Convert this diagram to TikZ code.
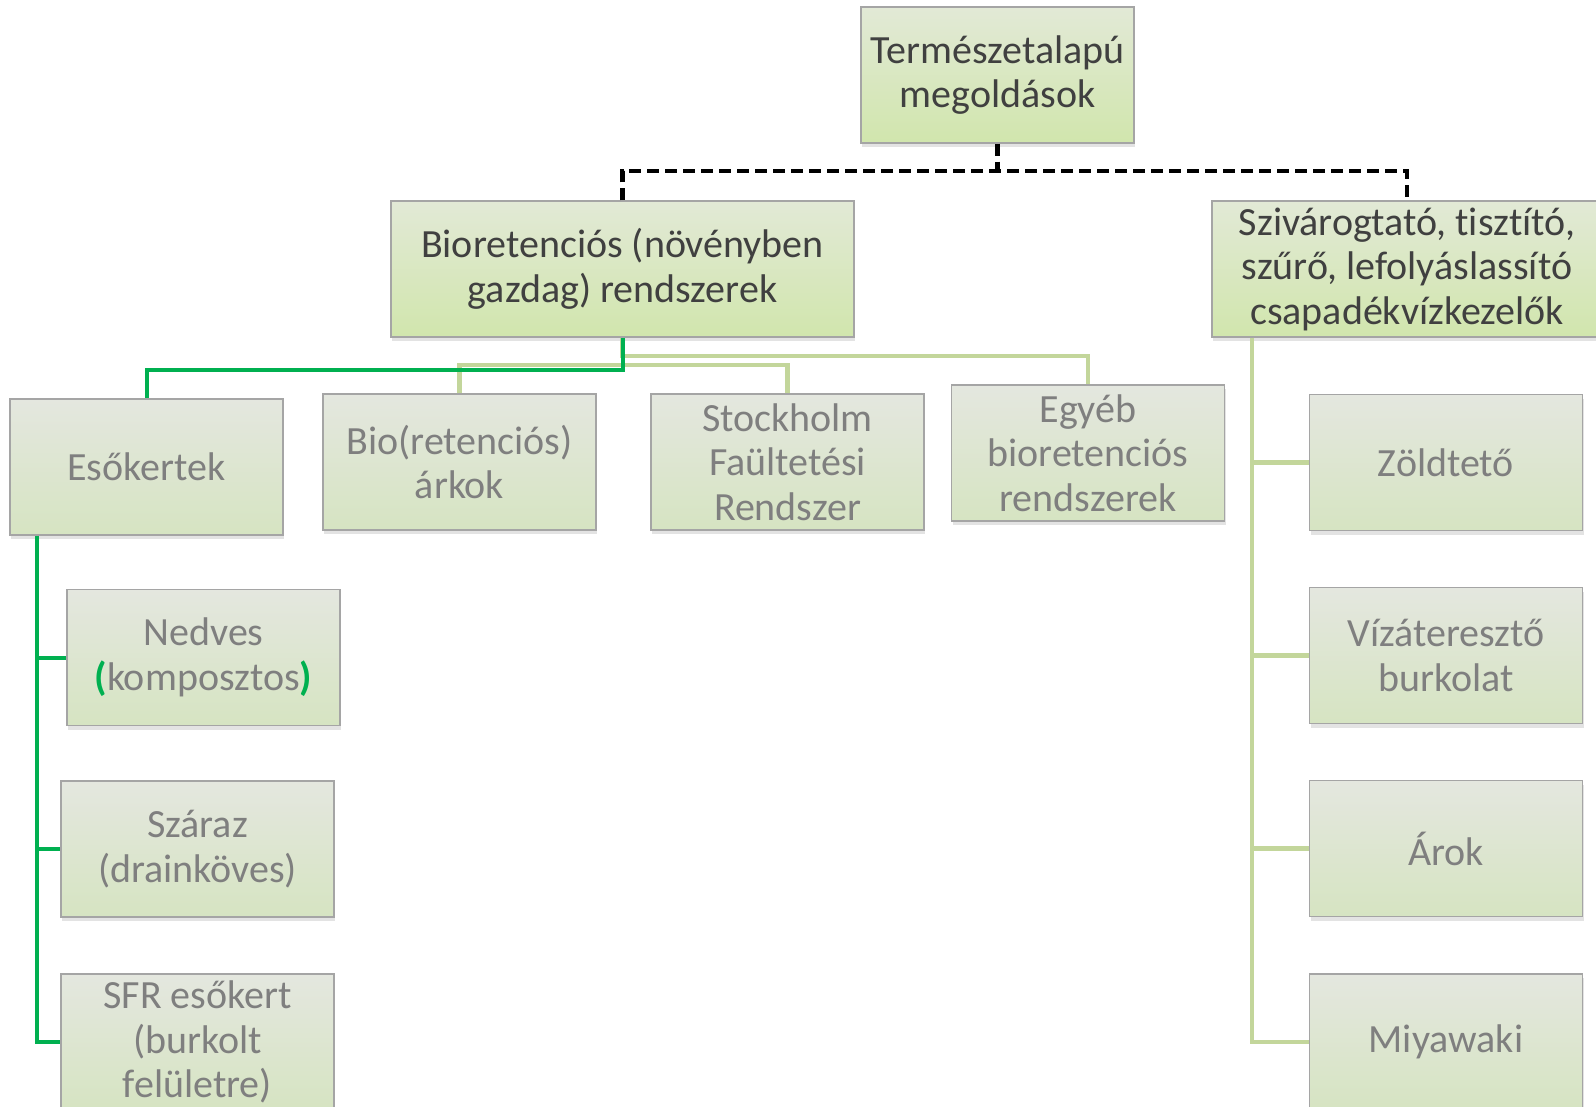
\documentclass[tikz,border=0pt]{standalone}
\usepackage{fontspec}
\setmainfont[Ligatures=NoCommon]{Carlito}
\usetikzlibrary{shadows}
\definecolor{tx1}{HTML}{404040}
\definecolor{tx2}{HTML}{7F7F7F}
\definecolor{gtop}{HTML}{E2E9D6}
\definecolor{gbot}{HTML}{D1E6AD}
\definecolor{ftop}{HTML}{E4E7DF}
\definecolor{fbot}{HTML}{D6E4C2}
\definecolor{bord}{HTML}{A5A5A5}
\definecolor{dgreen}{HTML}{00B050}
\definecolor{lgreen}{HTML}{C3D69B}
\begin{document}
\begin{tikzpicture}[x=1pt,y=-1pt,
 boxbase/.style={rectangle, draw=bord, line width=1.2pt, minimum width=273pt, minimum height=136pt, align=center, font=\fontsize{40}{44.5}\selectfont, inner sep=0pt, drop shadow={shadow xshift=1pt, shadow yshift=-4pt, opacity=0.22}},
 mainbox/.style={boxbase, top color=gtop, bottom color=gbot, text=tx1},
 subbox/.style={boxbase, top color=ftop, bottom color=fbot, text=tx2},
 darkline/.style={draw=dgreen, line width=4pt},
 lightline/.style={draw=lgreen, line width=4.5pt},
 dashline/.style={draw=black, line width=4.5pt, dash pattern=on 12pt off 6pt},
]
\useasboundingbox[fill=white] (0,0) rectangle (1596,1107);

% connector junctions
\coordinate (dj) at (997.5,171);
\coordinate (lh) at (622.5,365);
\coordinate (lh2) at (622.5,356);
\coordinate (dh) at (622.5,370);
\coordinate (rv) at (1252,337);
\coordinate (lv) at (37,535);

% boxes
\node[mainbox] (top) at (997.5,75) {Természetalapú\\megoldások};
\node[mainbox, minimum width=463pt] (bio) at (622.5,269) {Bioretenciós (növényben\\gazdag) rendszerek};
\node[mainbox, minimum width=390pt] (sziv) at (1407,269) {Szivárogtató, tisztító,\\szűrő, lefolyáslassító\\csapadékvízkezelők};

\node[subbox] (eso) at (146.5,467) {Esőkertek};
\node[subbox] (bioark) at (459.5,462) {Bio(retenciós)\\árkok};
\node[subbox] (stock) at (787.5,462) {Stockholm\\Faültetési\\Rendszer};
\node[subbox] (egyeb) at (1088,453) {Egyéb\\bioretenciós\\rendszerek};

\node[subbox] (nedves) at (203.5,657.5) {Nedves\\{\color{dgreen}\bfseries(}komposztos{\color{dgreen}\bfseries)}};
\node[subbox] (szaraz) at (197.5,849) {Száraz\\(drainköves)};
\node[subbox] (sfr) at (197.5,1042) {SFR esőkert\\(burkolt\\felületre)};

\node[subbox] (zold) at (1446,462.5) {Zöldtető};
\node[subbox] (viz) at (1446,655.5) {Vízáteresztő\\burkolat};
\node[subbox] (arok) at (1446,848.5) {Árok};
\node[subbox] (miya) at (1446,1042) {Miyawaki};

% dashed top-level connectors
\draw[dashline] (top.south) -- (dj);
\draw[dashline] (bio.north) |- (dj) -| (sziv.north);

% light green connectors from Bioretenciós
\draw[lightline] (bio.south) |- (lh2) -| (egyeb.north);
\draw[lightline] (bioark.north) |- (lh) -| (stock.north);
% dark green connector to Esőkertek
\draw[darkline] (bio.south) -- (dh) -| (eso.north);

% left green tree
\draw[darkline] (eso.south -| lv) |- (sfr.west);
\draw[darkline] (nedves.west -| lv) -- (nedves.west);
\draw[darkline] (szaraz.west -| lv) -- (szaraz.west);

% right light tree
\draw[lightline] (sziv.south -| rv) |- (miya.west);
\draw[lightline] (zold.west -| rv) -- (zold.west);
\draw[lightline] (viz.west -| rv) -- (viz.west);
\draw[lightline] (arok.west -| rv) -- (arok.west);
\end{tikzpicture}
\end{document}
